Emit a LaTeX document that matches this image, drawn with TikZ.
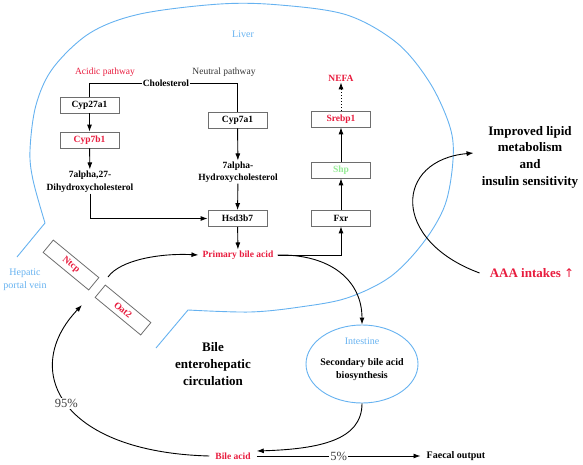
\documentclass[tikz,border=0pt]{standalone}
\usepackage{fontspec}
\setmainfont{Liberation Serif}
\newfontfamily\symf{DejaVu Sans}
\usetikzlibrary{arrows.meta,shapes.geometric}
\definecolor{myred}{RGB}{232,28,62}
\definecolor{myblue}{RGB}{102,178,240}
\definecolor{mygreen}{RGB}{150,235,150}
\definecolor{boxgray}{RGB}{110,110,110}
\begin{document}
\begin{tikzpicture}[x=1pt,y=-1pt,
  box/.style={draw=boxgray, line width=0.8pt, fill=white, minimum width=59pt, minimum height=16pt, inner sep=0pt, font=\fontsize{9.5}{11}\selectfont\bfseries},
  lbl/.style={font=\fontsize{9.5}{12.5}\selectfont\bfseries, inner sep=1pt, align=center},
  thin/.style={font=\fontsize{9.5}{12}\selectfont, inner sep=1pt, align=center},
  big/.style={font=\fontsize{13}{16.7}\selectfont\bfseries, inner sep=1pt, align=center},
  pct/.style={font=\fontsize{12.5}{14}\selectfont, text=black!75, fill=white, inner sep=1pt},
  arr/.style={-{Latex[length=7pt,width=5pt]}, line width=0.9pt},
  link/.style={line width=0.9pt},
  liver/.style={draw=myblue, line width=0.9pt}]
\useasboundingbox (0,0) rectangle (583,465);

% liver outline
\draw[liver] (17,257) -- plot[smooth,tension=0.55] coordinates {(45,223) (33,180) (30,150) (36,105) (53,68) (90,33) (140,14) (220,4) (280,5) (347,15) (397,43) (430,83) (450,127) (453,160) (445,205) (423,243) (390,277) (347,298) (300,307) (250,312) (188,310)} -- (156,348);

\node[thin, text=myblue, font=\fontsize{10}{12}\selectfont] (liverlbl) at (243,34) {Liver};
\node[thin, text=myred] (acidic) at (105,72) {Acidic pathway};
\node[thin, text=black!80] (neutral) at (224,72) {Neutral pathway};
\node[lbl] (chol) at (166,83) {Cholesterol};
\node[box] (cyp27) at (89.5,105) {Cyp27a1};
\node[box, text=myred] (cyp7b1) at (89.5,140) {Cyp7b1};
\node[lbl, font=\fontsize{9.5}{13}\selectfont\bfseries] (dihyd) at (90,181.5) {7alpha,27-\\Dihydroxycholesterol};
\node[box] (cyp7a1) at (237.5,120) {Cyp7a1};
\node[lbl, font=\fontsize{9.5}{12}\selectfont\bfseries] (hydro) at (238,172) {7alpha-\\Hydroxycholesterol};
\node[box] (hsd) at (237.5,218.5) {Hsd3b7};
\node[lbl, text=myred, inner xsep=4pt] (pba) at (238,255) {Primary bile acid};
\node[box] (fxr) at (341,218) {Fxr};
\node[box, text=mygreen] (shp) at (341,170) {Shp};
\node[box, text=myred] (srebp) at (341,119) {Srebp1};
\node[lbl, text=myred] (nefa) at (341,78) {NEFA};

\node[big, inner xsep=8pt] (improved) at (530,157) {Improved lipid\\metabolism\\and\\insulin sensitivity};
\node[big, text=myred, inner xsep=10pt] (aaa) at (532,273) {AAA intakes {\symf\mdseries\fontsize{12}{14}\selectfont ↑}};

\node[draw=myblue, line width=0.9pt, ellipse, minimum width=112pt, minimum height=78pt, inner sep=0pt] (intestine) at (362,364) {};
\node[thin, text=myblue, font=\fontsize{10}{12}\selectfont] (intlbl) at (362,341) {Intestine};
\node[lbl, font=\fontsize{10}{13}\selectfont\bfseries] (sec) at (362,369.5) {Secondary bile acid\\biosynthesis};

\node[lbl, text=myred, inner xsep=6pt] (bile) at (233,456) {Bile acid};
\node[lbl, font=\fontsize{10}{12}\selectfont\bfseries, inner xsep=6pt] (faecal) at (456,456) {Faecal output};
\node[big] (bec) at (213,364) {Bile\\enterohepatic\\circulation};
\node[thin, text=myblue, font=\fontsize{10}{13}\selectfont] (hep) at (25,279.5) {Hepatic\\portal vein};

\node[box, rotate=-39.5, text=myred] (ntcp) at (71,265) {Ntcp};
\node[box, rotate=-39.5, text=myred] (oat2) at (123,310) {Oat2};

\coordinate (gapin) at (82,305);
\coordinate (gapout) at (108,277);

% pathway connectors
\draw[link] (chol.west) -| (cyp27.north);
\draw[link] (chol.east) -| (cyp7a1.north);
\draw[arr] (cyp27) -- (cyp7b1);
\draw[arr] (cyp7b1) -- (dihyd);
\draw[arr] (dihyd.south) |- (hsd.west);
\draw[arr] (cyp7a1) -- (hydro);
\draw[arr] (hydro) -- (hsd);
\draw[arr] (hsd) -- (pba);
\draw[arr] (pba.east) -| (fxr.south);
\draw[arr] (fxr) -- (shp);
\draw[arr] (shp) -- (srebp);
\draw[arr, dotted] (srebp) -- (nefa);

% circulation
\draw[arr] (pba.east) .. controls (330,254) and (362,280) .. (intestine.north);
\draw[arr] (intestine.south) .. controls (362,440) and (320,449) .. ([yshift=5pt]bile.east);
\draw[arr] (bile.east) -- node[pct]{5\%} (faecal.west);
\draw[arr] (bile.west) .. controls (60,452) and (20,370) .. node[pct, pos=0.5]{95\%} (gapin);
\draw[arr] (gapout) .. controls (120,260) and (160,253) .. (pba.west);
\draw[arr] (aaa.west) .. controls (390,240) and (395,160) .. ([yshift=4pt]improved.west);
\end{tikzpicture}
\end{document}
